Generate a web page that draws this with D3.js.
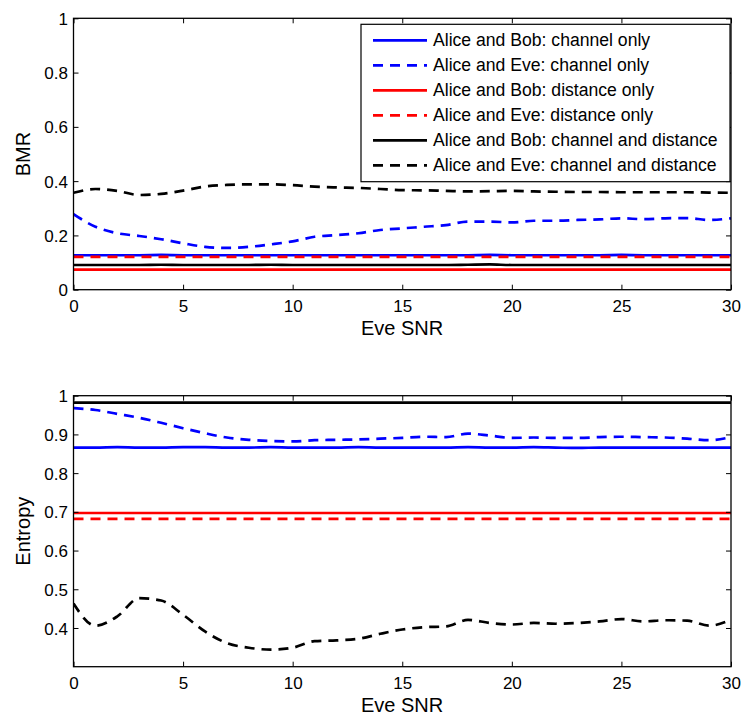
<!DOCTYPE html>
<html>
<head>
<meta charset="utf-8">
<script src="https://cdn.jsdelivr.net/npm/d3@7"></script>
<style>
body{margin:0;background:#fff;}
svg text{font-family:"Liberation Sans",Arial,Helvetica,sans-serif;fill:#000;}
</style>
</head>
<body>
<svg id="chart" width="743" height="720"></svg>
<script>
const snr = d3.range(0, 31);

// BMR (top panel)
const bmrBobChannel = [0.127,0.127,0.127,0.127,0.128,0.127,0.127,0.127,0.127,0.127,0.127,0.127,0.127,0.127,0.127,0.127,0.127,0.127,0.127,0.128,0.127,0.127,0.127,0.127,0.127,0.128,0.127,0.127,0.127,0.127,0.127];
const bmrEveChannel = [0.278,0.232,0.208,0.198,0.186,0.171,0.158,0.154,0.158,0.167,0.178,0.195,0.201,0.208,0.220,0.226,0.232,0.238,0.251,0.251,0.248,0.254,0.254,0.257,0.259,0.263,0.260,0.263,0.264,0.257,0.263];
const bmrBobDistance = [0.074,0.074,0.074,0.074,0.074,0.074,0.074,0.074,0.074,0.074,0.074,0.074,0.074,0.074,0.074,0.074,0.074,0.074,0.074,0.074,0.074,0.074,0.074,0.074,0.074,0.074,0.074,0.074,0.074,0.074,0.074];
const bmrEveDistance = [0.121,0.121,0.121,0.121,0.121,0.121,0.121,0.121,0.121,0.121,0.121,0.121,0.121,0.121,0.121,0.121,0.121,0.121,0.121,0.121,0.121,0.121,0.121,0.121,0.121,0.121,0.121,0.121,0.121,0.121,0.121];
const bmrBobBoth = [0.091,0.091,0.091,0.091,0.092,0.091,0.091,0.091,0.091,0.092,0.091,0.091,0.091,0.091,0.091,0.091,0.091,0.091,0.092,0.093,0.091,0.091,0.091,0.091,0.091,0.091,0.091,0.091,0.091,0.091,0.091];
const bmrEveBoth = [0.357,0.371,0.364,0.349,0.353,0.365,0.380,0.386,0.388,0.388,0.385,0.380,0.377,0.375,0.371,0.367,0.366,0.364,0.362,0.363,0.364,0.362,0.361,0.360,0.360,0.359,0.359,0.359,0.359,0.358,0.357];

// Entropy (bottom panel)
const entBobChannel = [0.866,0.866,0.867,0.866,0.866,0.867,0.867,0.866,0.866,0.867,0.866,0.866,0.866,0.867,0.866,0.866,0.866,0.866,0.867,0.866,0.866,0.867,0.866,0.865,0.866,0.866,0.866,0.866,0.866,0.866,0.866];
const entEveChannel = [0.968,0.963,0.953,0.943,0.930,0.916,0.903,0.892,0.886,0.883,0.882,0.885,0.886,0.887,0.889,0.891,0.894,0.893,0.902,0.897,0.891,0.892,0.891,0.891,0.893,0.894,0.893,0.892,0.889,0.885,0.893];
const entBobDistance = [0.697,0.697,0.697,0.697,0.697,0.697,0.697,0.697,0.697,0.697,0.697,0.697,0.697,0.697,0.697,0.697,0.697,0.697,0.697,0.697,0.697,0.697,0.697,0.697,0.697,0.697,0.697,0.697,0.697,0.697,0.697];
const entEveDistance = [0.682,0.682,0.682,0.682,0.682,0.682,0.682,0.682,0.682,0.682,0.682,0.682,0.682,0.682,0.682,0.682,0.682,0.682,0.682,0.682,0.682,0.682,0.682,0.682,0.682,0.682,0.682,0.682,0.682,0.682,0.682];
const entBobBoth = [0.982,0.982,0.982,0.982,0.982,0.982,0.982,0.982,0.982,0.982,0.982,0.982,0.982,0.982,0.982,0.982,0.982,0.982,0.982,0.982,0.982,0.982,0.982,0.982,0.982,0.982,0.982,0.982,0.982,0.982,0.982];
const entEveBoth = [0.463,0.406,0.430,0.477,0.471,0.434,0.391,0.361,0.349,0.344,0.349,0.366,0.368,0.372,0.385,0.396,0.402,0.404,0.421,0.413,0.409,0.413,0.411,0.413,0.417,0.423,0.417,0.420,0.419,0.406,0.421];

const seriesNames = ["Alice and Bob: channel only","Alice and Eve: channel only","Alice and Bob: distance only","Alice and Eve: distance only","Alice and Bob: channel and distance","Alice and Eve: channel and distance"];
const seriesColors = ["#0000ff","#0000ff","#ff0000","#ff0000","#000000","#000000"];
const seriesDashed = [false,true,false,true,false,true];

const xTicks = [0,5,10,15,20,25,30];
const bmrTicks = [0,0.2,0.4,0.6,0.8,1];
const entTicks = [0.4,0.5,0.6,0.7,0.8,0.9,1];

const svg = d3.select("#chart");
const L = 73.5, R = 731;

function panel(top, bottom, yDomain, yTicks, yLabel, data, showLegend){
  const x = d3.scaleLinear().domain([0,30]).range([L,R]);
  const y = d3.scaleLinear().domain(yDomain).range([bottom,top]);
  const g = svg.append("g");

  const clipId = "clip"+Math.round(top);
  svg.append("clipPath").attr("id",clipId).append("rect")
    .attr("x",L).attr("y",top-2).attr("width",R-L).attr("height",bottom-top+2);
  const line = d3.line().x((d,i)=>x(snr[i])).y(d=>y(d)).curve(d3.curveMonotoneX);
  [0,1,2,3,4,5].forEach(k=>{
    g.append("path").datum(data[k]).attr("d",line)
      .attr("fill","none").attr("stroke",seriesColors[k]).attr("stroke-width",2.7)
      .attr("stroke-dasharray",seriesDashed[k]?"10,7":null)
      .attr("clip-path","url(#"+clipId+")");
  });

  const tickLen = 5;
  const ax = g.append("g");
  const bx = ax.append("g").attr("transform",`translate(0,${bottom})`)
    .call(d3.axisBottom(x).tickValues(xTicks).tickSize(-tickLen).tickFormat(d3.format("d")));
  bx.selectAll(".tick text").attr("y",22.5).attr("dy",null);
  ax.append("g").attr("transform",`translate(0,${top})`)
    .call(d3.axisTop(x).tickValues(xTicks).tickSize(-tickLen).tickFormat(""));
  const lx = ax.append("g").attr("transform",`translate(${L},0)`)
    .call(d3.axisLeft(y).tickValues(yTicks).tickSize(-tickLen).tickFormat(d=>d3.format("~g")(d)));
  lx.selectAll(".tick text").attr("x",-5.5).attr("dy","0.36em");
  ax.append("g").attr("transform",`translate(${R},0)`)
    .call(d3.axisRight(y).tickValues(yTicks).tickSize(-tickLen).tickFormat(""));
  ax.selectAll(".domain").remove();
  ax.selectAll(".tick line").attr("stroke","#000").attr("stroke-width",1);
  ax.selectAll(".tick text").attr("font-size","17px").attr("fill","#000")
    .style("font-family","'Liberation Sans',Arial,sans-serif");
  g.append("rect").attr("x",L).attr("y",top).attr("width",R-L).attr("height",bottom-top)
    .attr("fill","none").attr("stroke","#000").attr("stroke-width",1.3);

  g.append("text").attr("x",402).attr("y",bottom+45.5).attr("text-anchor","middle")
    .attr("font-size","20px").text("Eve SNR");
  g.append("text").attr("transform",`translate(30,${(top+bottom)/2}) rotate(-90)`)
    .attr("text-anchor","middle").attr("font-size","20px").text(yLabel);

  if(showLegend){
    const lg = g.append("g");
    lg.append("rect").attr("x",361).attr("y",24.3).attr("width",369).attr("height",157.4)
      .attr("fill","#fff").attr("stroke","#000").attr("stroke-width",1.2);
    seriesNames.forEach((n,k)=>{
      const yy = 40.3 + k*25;
      lg.append("line").attr("x1",373).attr("x2",427).attr("y1",yy).attr("y2",yy)
        .attr("stroke",seriesColors[k]).attr("stroke-width",2.7)
        .attr("stroke-dasharray",seriesDashed[k]?"10,7":null);
      lg.append("text").attr("x",433).attr("y",yy+6).attr("font-size","17.6px").text(n);
    });
  }
}

panel(18.3, 289.7, [0,1], bmrTicks, "BMR",
  [bmrBobChannel,bmrEveChannel,bmrBobDistance,bmrEveDistance,bmrBobBoth,bmrEveBoth], true);
panel(395.7, 666.7, [0.3,1], entTicks, "Entropy",
  [entBobChannel,entEveChannel,entBobDistance,entEveDistance,entBobBoth,entEveBoth], false);
</script>
</body>
</html>
